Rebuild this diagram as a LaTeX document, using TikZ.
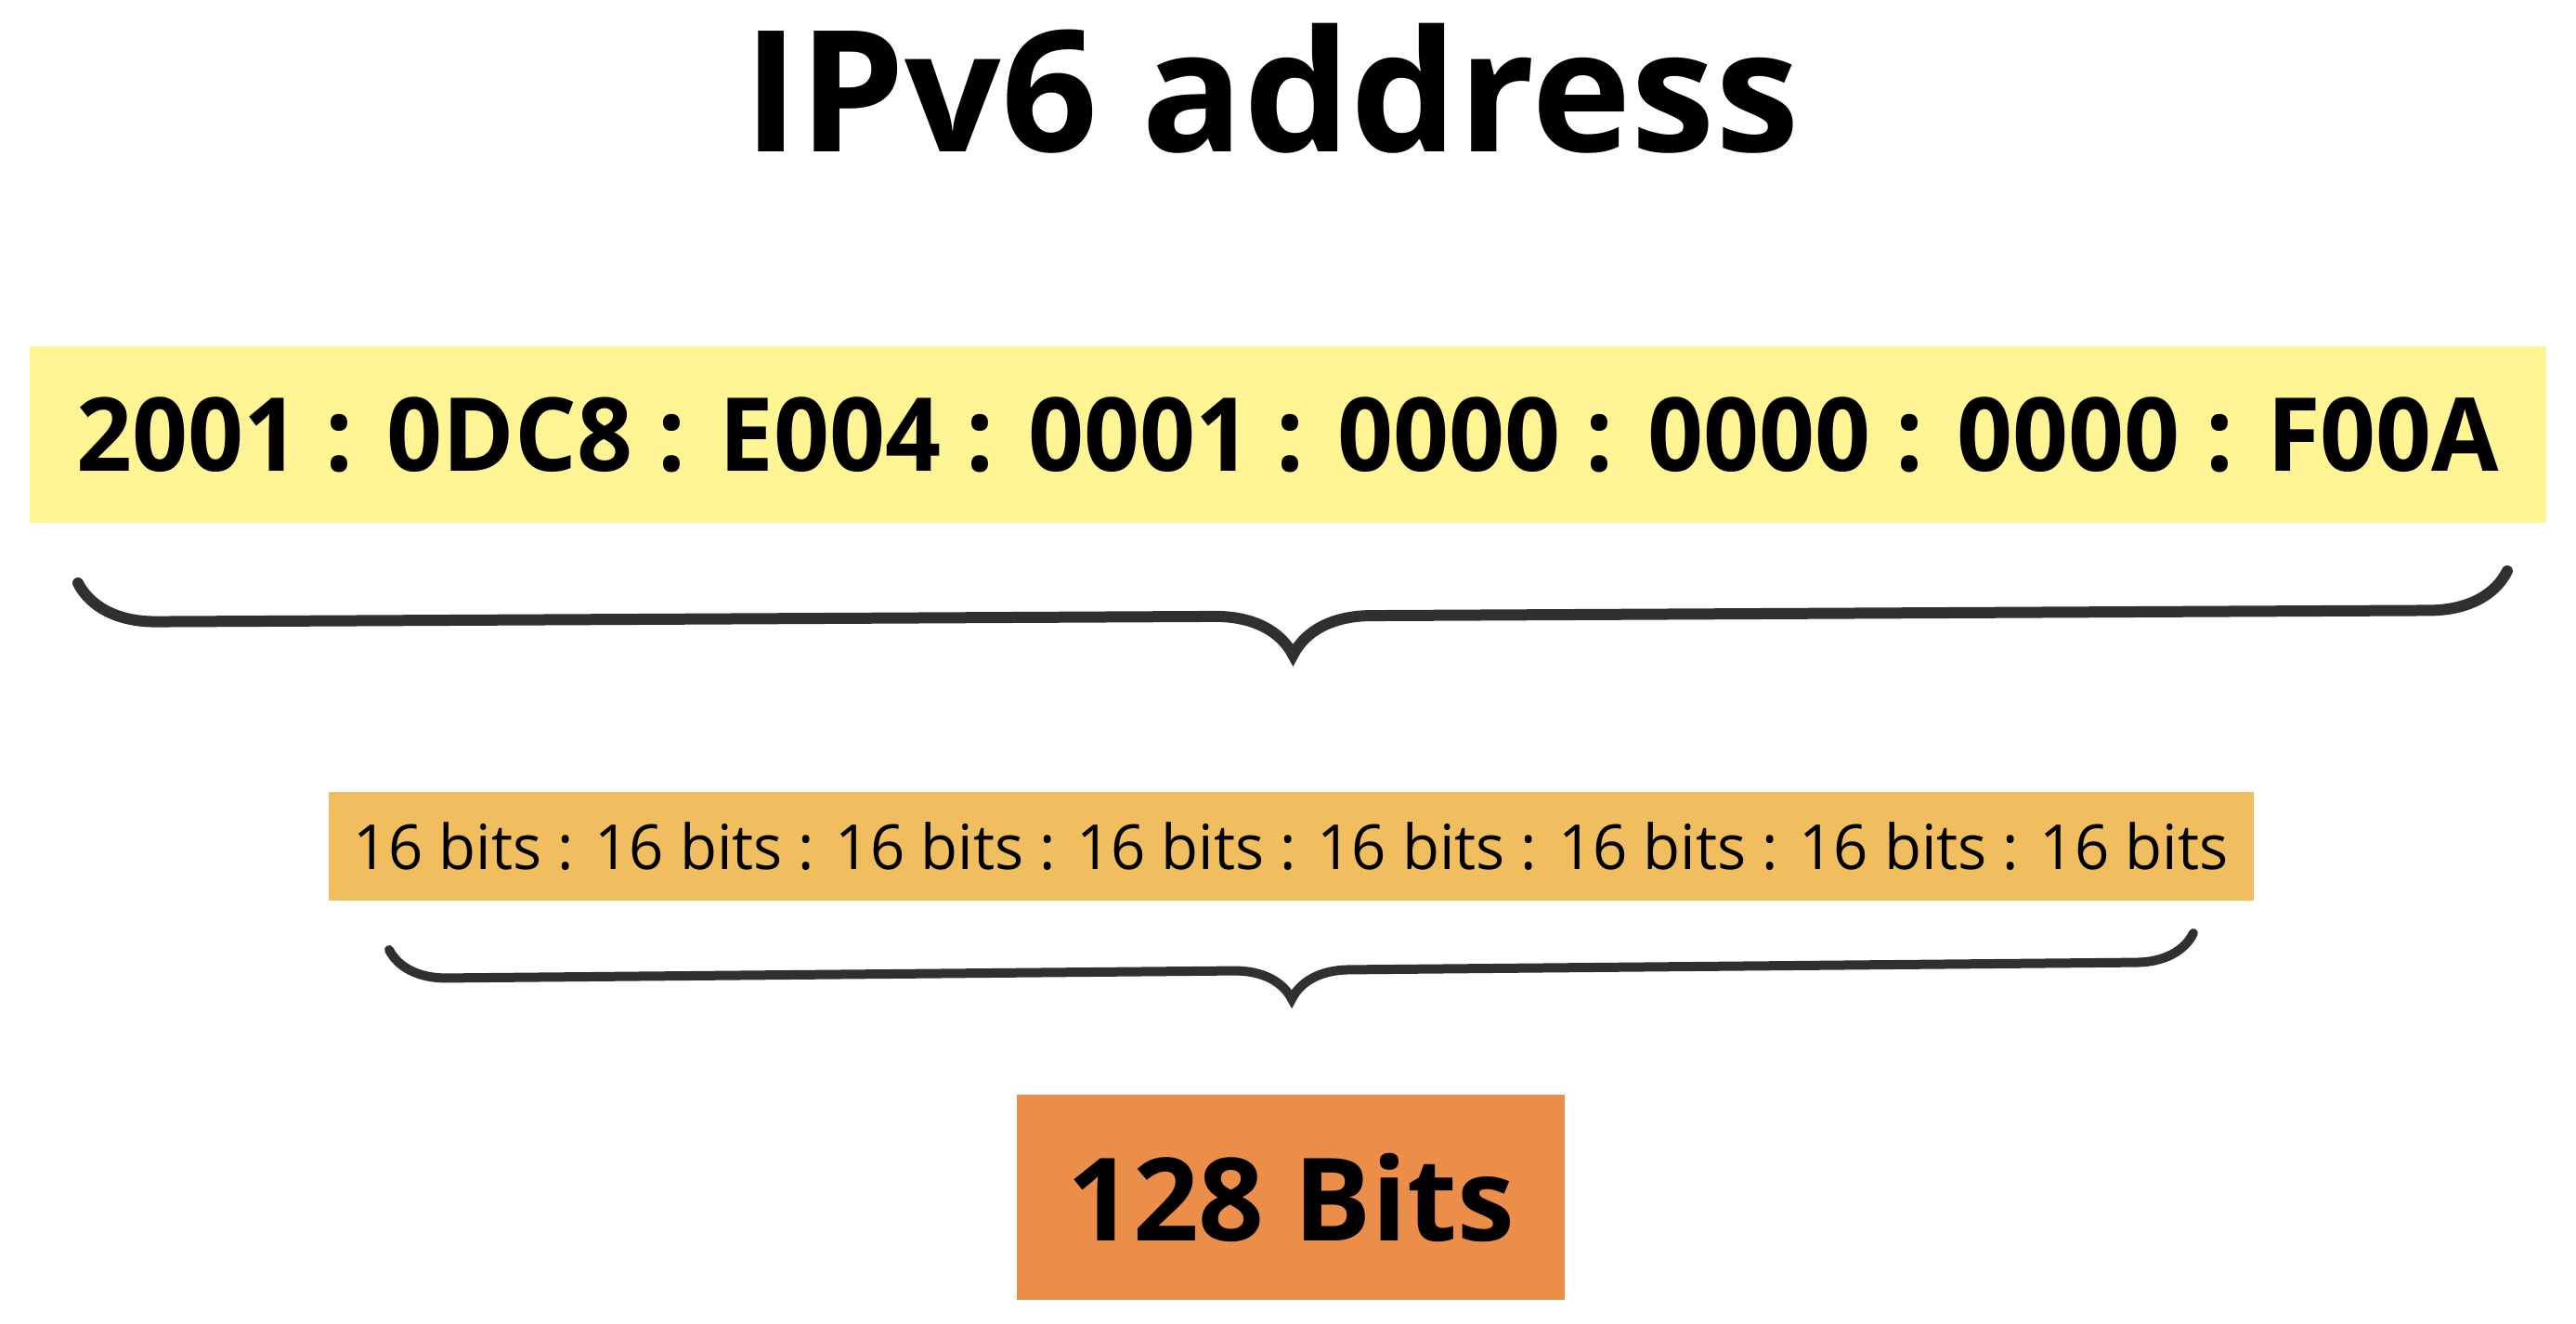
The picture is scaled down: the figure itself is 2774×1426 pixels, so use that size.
\documentclass[tikz,border=0pt]{standalone}
\usepackage{fontspec}
\setmainfont{Open Sans}
\newfontfamily\addrfont{Open Sans}[FakeStretch=0.955]
\newfontfamily\bitsfont{Open Sans}[FakeStretch=0.975]
\usetikzlibrary{decorations.pathreplacing}
\definecolor{addryellow}{HTML}{FFF594}
\definecolor{bitsorange}{HTML}{F0BE5E}
\definecolor{totalorange}{HTML}{EA8E4A}
\definecolor{bracegray}{HTML}{303030}
\begin{document}
\begin{tikzpicture}[x=0.1mm,y=-0.1mm,
        box/.style={inner sep=0pt, text=black},
        curly/.style={decorate, decoration={brace,mirror,amplitude=#1}, draw=bracegray, line cap=round}]
    \useasboundingbox (0,0) rectangle (2774,1426);
    \node[anchor=base, font=\fontsize{51.8}{60}\selectfont\bfseries] (title) at (1369,164) {IPv6 address};

    \node[box, fill=addryellow, minimum width=271mm, minimum height=19mm,
          font=\addrfont\fontsize{31.3}{36}\selectfont\bfseries] (addr) at (1387,468)
          {2001 : 0DC8 : E004 : 0001 : 0000 : 0000 : 0000 : F00A};
    \node[box, fill=bitsorange, minimum width=207.3mm, minimum height=11.7mm,
          font=\bitsfont\fontsize{19.06}{22}\selectfont] (bits) at (1390,912)
          {16 bits : 16 bits : 16 bits : 16 bits : 16 bits : 16 bits : 16 bits : 16 bits};
    \node[box, fill=totalorange, minimum width=59mm, minimum height=22.1mm,
          font=\fontsize{35.3}{40}\selectfont\bfseries] (total) at (1390,1290) {128 Bits};

    % braces
    \coordinate (b1l) at (84,628);
    \coordinate (b1r) at (2700,615);
    \coordinate (b2l) at (419,1023);
    \coordinate (b2r) at (2362,1005);
    \foreach \l/\r/\a/\w in {b1l/b1r/8.4/1.2, b2l/b2r/6.2/1.0} {
            \draw[curly=\a mm, line width=\w mm] (\l) -- (\r);
        }
\end{tikzpicture}
\end{document}
